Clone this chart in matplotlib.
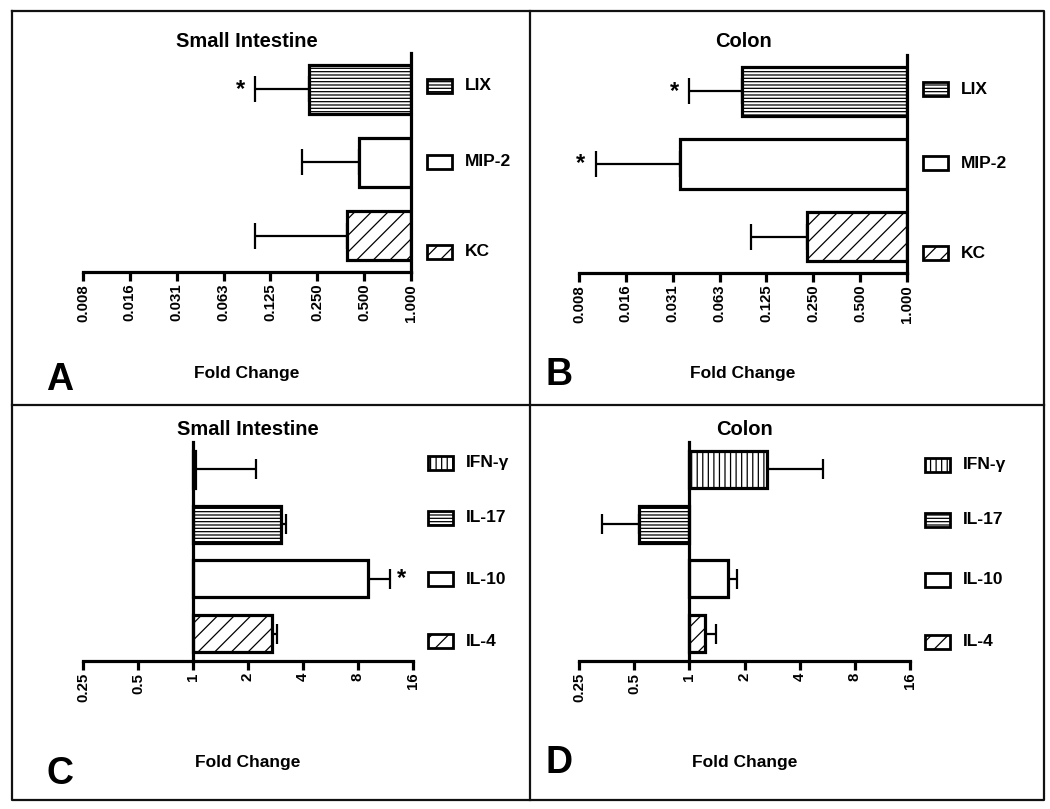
import matplotlib
matplotlib.use("Agg")
from matplotlib import pyplot as plt
from matplotlib.patches import Rectangle
from matplotlib.lines import Line2D
from matplotlib.ticker import FixedLocator, NullLocator
import numpy as np

plt.rcParams['font.family'] = ['Liberation Sans', 'DejaVu Sans']
plt.rcParams['font.weight'] = 'bold'
plt.rcParams['hatch.linewidth'] = 0.9

# chemokines (panels A, B), listed top to bottom
chemo_names = ['LIX', 'MIP-2', 'KC']
chemo_hatch = ['-----', '', '//']
si_chemo = [0.22, 0.46, 0.39]
si_chemo_err = [0.10, 0.20, 0.10]
si_chemo_star = [True, False, False]
co_chemo = [0.087, 0.035, 0.227]
co_chemo_err = [0.040, 0.0100, 0.10]
co_chemo_star = [True, True, False]
chemo_ticks = [2.0 ** k for k in range(-7, 1)]
chemo_ticklabels = ['0.008', '0.016', '0.031', '0.063', '0.125', '0.250', '0.500', '1.000']

# cytokines (panels C, D), listed top to bottom
cyto_names = ['IFN-γ', 'IL-17', 'IL-10', 'IL-4']
cyto_hatch = ['|||', '-----', '', '//']
si_cyto = [1.02, 3.03, 9.07, 2.71]
si_cyto_err = [2.21, 3.23, 11.97, 2.88]
si_cyto_star = [False, False, True, False]
co_cyto = [2.66, 0.53, 1.63, 1.21]
co_cyto_err = [5.38, 0.335, 1.83, 1.40]
co_cyto_star = [False, False, False, False]
cyto_ticks = [2.0 ** k for k in range(-2, 5)]
cyto_ticklabels = ['0.25', '0.5', '1', '2', '4', '8', '16']

W, H = 1050, 809
fig = plt.figure(figsize=(W / 100, H / 100), dpi=100)


def fx(x):
    return x / W


def fy(y):
    return 1 - y / H


LW = 2.3


def panel(rect, names, vals, errs, stars, hatches, ticks, ticklabels,
          title, title_y, fold_y, letter, letter_xy, leg_x, leg_ys, capsize):
    left, top, right, bottom = rect
    ax = fig.add_axes([fx(left), fy(bottom), fx(right - left), (bottom - top) / H])
    n = len(names)
    ys = np.arange(n)[::-1]
    ax.set_xscale('log', base=2)
    ax.set_xlim(ticks[0], ticks[-1])
    ax.set_ylim(-0.5, n - 0.5)
    vals = np.array(vals)
    errs = np.array(errs)
    ax.barh(ys, vals - 1, left=1, height=0.68, color='white', edgecolor='black',
            linewidth=LW, hatch=hatches, zorder=3)
    lo = np.where(errs < vals, vals - errs, 0)
    hi = np.where(errs > vals, errs - vals, 0)
    ax.errorbar(vals, ys, xerr=[lo, hi], fmt='none', ecolor='black',
                elinewidth=1.6, capsize=capsize, capthick=1.6, zorder=2)
    for yy, e, v, s in zip(ys, errs, vals, stars):
        if s:
            off = -11 if e < v else 8
            ax.annotate('*', xy=(e, yy), xytext=(off, 0), textcoords='offset points',
                        ha='center', va='center', fontsize=17, fontweight='bold')
    ax.axvline(1, color='black', linewidth=LW, clip_on=False, zorder=4,
               solid_capstyle='projecting')
    for side in ['left', 'right', 'top']:
        ax.spines[side].set_visible(False)
    ax.spines['bottom'].set_linewidth(LW)
    ax.spines['bottom'].set_capstyle('projecting')
    ax.xaxis.set_major_locator(FixedLocator(ticks))
    ax.xaxis.set_minor_locator(NullLocator())
    ax.set_xticklabels(ticklabels, rotation=90, fontsize=10.8, fontweight='bold')
    ax.tick_params(axis='x', length=6.5, width=LW, pad=2)
    ax.set_yticks([])
    ax.set_facecolor('none')
    cx = (left + right) / 2
    fig.text(fx(cx), fy(title_y), title, ha='center', va='baseline',
             fontsize=14.5, fontweight='bold')
    fig.text(fx(cx), fy(fold_y), 'Fold Change', ha='center', va='baseline',
             fontsize=12.5, fontweight='bold')
    fig.text(fx(letter_xy[0]), fy(letter_xy[1]), letter, ha='left', va='baseline',
             fontsize=27, fontweight='bold')
    # legend
    for name, h, ly in zip(names, hatches, leg_ys):
        fig.patches.append(Rectangle((fx(leg_x), fy(ly + 7)), fx(25), 14 / H,
                                     transform=fig.transFigure, facecolor='white',
                                     edgecolor='black', linewidth=2.0, hatch=h))
        fig.text(fx(leg_x + 38), fy(ly), name, ha='left', va='center',
                 fontsize=12.5, fontweight='bold')
    return ax


panel((83, 53, 411, 272), chemo_names, si_chemo, si_chemo_err, si_chemo_star,
      chemo_hatch, chemo_ticks, chemo_ticklabels, 'Small Intestine', 47, 378,
      'A', (46, 390), 427, [86, 162, 252], 9.4)
panel((579, 55, 907, 273), chemo_names, co_chemo, co_chemo_err, co_chemo_star,
      chemo_hatch, chemo_ticks, chemo_ticklabels, 'Colon', 47, 378,
      'B', (545, 385), 923, [89, 163, 253], 9.4)
panel((83, 442, 413, 661), cyto_names, si_cyto, si_cyto_err, si_cyto_star,
      cyto_hatch, cyto_ticks, cyto_ticklabels, 'Small Intestine', 435, 767,
      'C', (46, 784), 428, [463, 518, 579, 641], 7.2)
panel((579, 442, 910, 661), cyto_names, co_cyto, co_cyto_err, co_cyto_star,
      cyto_hatch, cyto_ticks, cyto_ticklabels, 'Colon', 435, 767,
      'D', (546, 773), 925, [465, 520, 580, 642], 7.2)

# panel frames
frame = dict(color='#111111', linewidth=1.6, transform=fig.transFigure)
fig.lines.append(Line2D([fx(12), fx(1044), fx(1044), fx(12), fx(12)],
                        [fy(11), fy(11), fy(800), fy(800), fy(11)], **frame))
fig.lines.append(Line2D([fx(530), fx(530)], [fy(11), fy(800)], **frame))
fig.lines.append(Line2D([fx(12), fx(1044)], [fy(405), fy(405)], **frame))

fig.savefig('out.png', dpi=100)
